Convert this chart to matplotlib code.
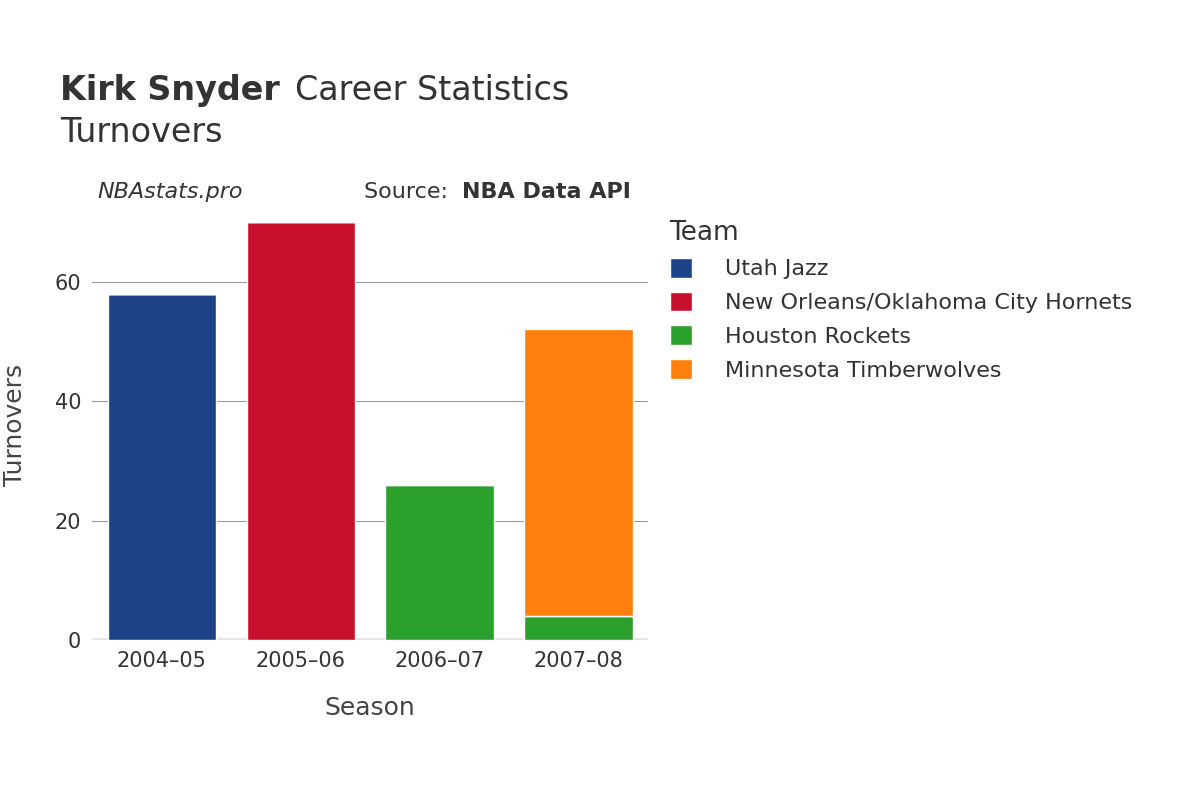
import matplotlib
matplotlib.use("Agg")
import matplotlib.pyplot as plt
import numpy as np

seasons = ["2004–05", "2005–06", "2006–07", "2007–08"]
teams = ["Utah Jazz", "New Orleans/Oklahoma City Hornets", "Houston Rockets", "Minnesota Timberwolves"]
colors = ["#1d4287", "#c8102e", "#2ca02c", "#ff7f0e"]
values = {
    "Utah Jazz": [58, 0, 0, 0],
    "New Orleans/Oklahoma City Hornets": [0, 70, 0, 0],
    "Houston Rockets": [0, 0, 26, 4],
    "Minnesota Timberwolves": [0, 0, 0, 48],
}
yticks = [0, 20, 40, 60]

fig = plt.figure(figsize=(12, 8), dpi=100)
ax = fig.add_axes([0.077, 0.2, 0.463, 0.5375])
x = np.arange(len(seasons))
bottom = np.zeros(len(seasons))
for t, c in zip(teams, colors):
    v = np.array(values[t], dtype=float)
    ax.bar(x, v, 0.78, bottom=bottom, color=c, edgecolor="white", linewidth=1, label=t, zorder=3)
    bottom += v

ax.set_xlim(-0.5, 3.5)
ax.set_ylim(0, 72)
ax.set_yticks(yticks)
ax.set_xticks(x)
ax.set_xticklabels(seasons)
ax.tick_params(axis="both", length=0, labelsize=15, colors="#333333", pad=8)
ax.grid(axis="y", color="#999999", linewidth=0.8, zorder=0)
for s in ax.spines.values():
    s.set_visible(False)
ax.axhline(0, color="#e5e5e5", linewidth=3, zorder=2)
ax.set_xlabel("Season", fontsize=18, color="#444444", labelpad=18)
ax.set_ylabel("Turnovers", fontsize=18, color="#444444", labelpad=20)

fig.text(0.05, 0.875, "Kirk Snyder", fontsize=24, fontweight="bold", color="#333333")
fig.text(0.2458, 0.875, "Career Statistics", fontsize=24, color="#333333")
fig.text(0.05, 0.822, "Turnovers", fontsize=24, color="#333333")
fig.text(0.081, 0.752, "NBAstats.pro", fontsize=16, style="italic", color="#333333")
fig.text(0.303, 0.752, "Source: ", fontsize=16, color="#333333")
fig.text(0.385, 0.752, "NBA Data API", fontsize=16, fontweight="bold", color="#333333")

h, l = ax.get_legend_handles_labels()
leg = fig.legend(h, l, loc="upper left", bbox_to_anchor=(0.545, 0.745), frameon=False,
                 title="Team", fontsize=16, title_fontsize=19, handlelength=1.0, handleheight=1.0,
                 labelspacing=0.55, handletextpad=1.5, borderpad=0.2)
leg._legend_box.align = "left"
for t in leg.get_texts():
    t.set_color("#333333")
leg.get_title().set_color("#333333")

fig.savefig("out.png", dpi=100)
